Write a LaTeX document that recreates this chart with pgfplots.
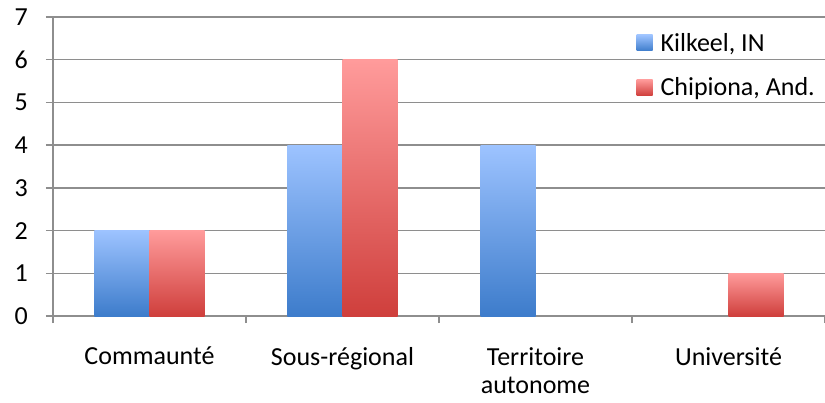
\documentclass[border=0pt]{standalone}
\usepackage{fontspec}
\setmainfont{Carlito}
\usepackage{pgfplots}
\pgfplotsset{compat=1.18}
\definecolor{gridgray}{HTML}{8E8E8E}
\definecolor{blueTop}{HTML}{9DC3FF}
\definecolor{blueBot}{HTML}{3D7CCB}
\definecolor{redTop}{HTML}{FF9B9B}
\definecolor{redBot}{HTML}{CF3F3C}
\pgfplotsset{
    kil/.style={draw=none, top color=blueTop, bottom color=blueBot, bar shift=-0.1425},
    chi/.style={draw=none, top color=redTop, bottom color=redBot, bar shift=0.1425},
}
\begin{document}
\begin{tikzpicture}
\begin{axis}[
    scale only axis,
    width=772pt,
    height=299pt,
    ybar,
    bar width=0.285,
    xmin=-0.5, xmax=3.5,
    ymin=0, ymax=7,
    ytick={0,1,...,7},
    xtick={0,1,2,3},
    xticklabels={Commaunté, Sous-régional, {Territoire\\autonome}, Université},
    minor xtick={-0.5,0.5,1.5,2.5,3.5},
    major x tick style={draw=none},
    minor tick length=7pt,
    major tick length=7pt,
    tick align=outside,
    tick style={gridgray, line width=1.3pt},
    axis x line*=bottom,
    axis y line*=left,
    axis line style={gridgray, line width=1.3pt, -},
    ymajorgrids,
    major grid style={gridgray, line width=1.3pt},
    /pgf/number format/assume math mode=true,
    tick label style={font=\fontsize{26}{28}\selectfont},
    yticklabel style={inner sep=0pt, anchor=east, xshift=-18pt},
    xticklabel style={inner sep=0pt, align=center, yshift=-24pt},
    legend style={at={(1,1)}, anchor=north east, xshift=-5pt, yshift=-12pt,
        draw=none, fill=none, font=\fontsize{26}{28}\selectfont,
        row sep=21pt},
    legend cell align=left,
    legend image code/.code={
        \path (0pt,0pt) -- (22pt,0pt);
        \path[#1, draw=none] (0pt,-8pt) rectangle (16pt,8pt);},
]
% one \addplot per bar, so that each bar gets its own gradient
\addplot[kil] coordinates {(0,2)};
\addplot[chi] coordinates {(0,2)};
\addplot[kil, forget plot] coordinates {(1,4)};
\addplot[kil, forget plot] coordinates {(2,4)};
\addplot[chi, forget plot] coordinates {(1,6)};
\addplot[chi, forget plot] coordinates {(3,1)};
\legend{{Kilkeel, IN}, {Chipiona, And.}}
\end{axis}
\pgfresetboundingbox
\path ([shift={(-53pt,-86pt)}]current axis.south west) rectangle ([shift={(0pt,17pt)}]current axis.north east);
\end{tikzpicture}
\end{document}
